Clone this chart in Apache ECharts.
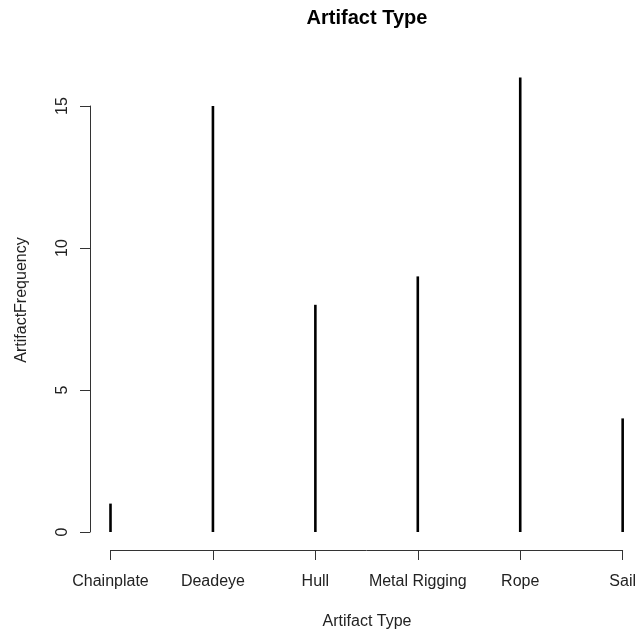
<!DOCTYPE html>
<html>
<head>
<meta charset="utf-8">
<script src="https://cdn.jsdelivr.net/npm/echarts@6/dist/echarts.min.js"></script>
<style>
html,body{margin:0;padding:0;background:#fff;}
#chart{width:639px;height:634px;}
</style>
</head>
<body>
<div id="chart"></div>
<script>
var categories = ["Chainplate", "Deadeye", "Hull", "Metal Rigging", "Rope", "Sail"];
var frequency = [1, 15, 8, 9, 16, 4];
var yTicks = [0, 5, 10, 15];

var chart = echarts.init(document.getElementById('chart'), null, {renderer: 'canvas'});
var font = 'Liberation Sans, Arial, sans-serif';
var option = {
  animation: false,
  backgroundColor: '#ffffff',
  grid: {left: 110.5, right: 15.3, top: 106, bottom: 102, containLabel: false},
  xAxis: {
    type: 'category',
    data: categories,
    boundaryGap: false,
    offset: 18,
    axisLine: {show: true, onZero: false, lineStyle: {color: '#333', width: 1}},
    axisTick: {show: true, length: 10, alignWithLabel: true, lineStyle: {color: '#333'}},
    axisLabel: {show: true, interval: 0, margin: 24, color: '#222', fontSize: 16, fontFamily: font},
    splitLine: {show: false}
  },
  yAxis: {
    type: 'value',
    min: yTicks[0],
    max: yTicks[yTicks.length - 1],
    interval: 5,
    offset: 20.5,
    axisLine: {show: true, onZero: false, lineStyle: {color: '#333', width: 1}},
    axisTick: {show: true, length: 10, lineStyle: {color: '#333'}},
    axisLabel: {show: true, rotate: 90, margin: 19, color: '#222', fontSize: 16, fontFamily: font},
    splitLine: {show: false}
  },
  series: [{
    type: 'bar',
    data: frequency,
    barWidth: 2.6,
    clip: false,
    itemStyle: {color: '#000'}
  }],
  graphic: [
    {type: 'text', x: 367, y: 18, style: {text: 'Artifact Type', font: 'bold 20px ' + font, fill: '#000', textAlign: 'center', textVerticalAlign: 'middle'}},
    {type: 'text', x: 367, y: 622, style: {text: 'Artifact Type', font: '16px ' + font, fill: '#222', textAlign: 'center', textVerticalAlign: 'middle'}},
    {type: 'text', x: 22, y: 300, rotation: Math.PI / 2, style: {text: 'ArtifactFrequency', font: '16px ' + font, fill: '#222', textAlign: 'center', textVerticalAlign: 'middle'}}
  ]
};
chart.setOption(option);
</script>
</body>
</html>
